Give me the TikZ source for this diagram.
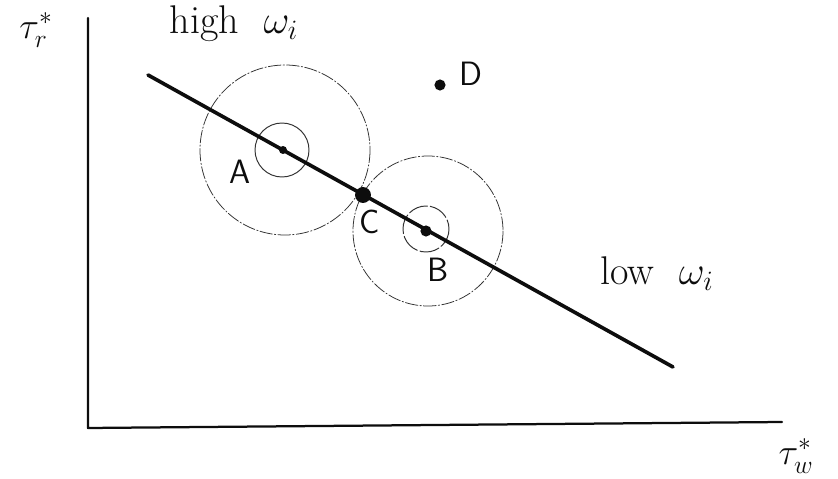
\RequirePackage{fix-cm}
\documentclass[tikz,border=0pt]{standalone}
\usepackage{amsmath,amssymb}
\usetikzlibrary{arrows.meta,calc}
\definecolor{PlotInk}{gray}{0.05}
\definecolor{PlotContour}{gray}{0.2}
\tikzset{
    plot/diagram/.style={
        font=\fontsize{28.5}{34}\selectfont,
        draw=PlotInk,
        text=PlotInk,
        line width=0.65pt,
        line cap=round,
        line join=round,
        every node/.style={inner sep=2pt, outer sep=1pt}
    },
    plot/axis/.style={draw=PlotInk, line width=1.6pt},
    plot/curve/.style={draw=PlotInk, line width=2.6pt},
    plot/outer/.style={
        draw=PlotContour, line width=0.55pt,
        dash pattern=on 9pt off 1.5pt on 1pt off 1.5pt
    },
    plot/inner/.style={draw=PlotContour, line width=0.7pt},
    plot/broken/.style={plot/inner, dash pattern=on 14pt off 2pt},
    plot/point/.style={circle, fill=PlotInk, draw=none, inner sep=2.8pt},
    plot/letter/.style={font=\fontsize{24}{28}\sffamily},
    plot/label/.style={font=\fontsize{26}{30}\selectfont}
}

\begin{document}
\begin{tikzpicture}[plot/diagram, x=0.025cm, y=-0.025cm]
    \useasboundingbox (0,0) rectangle (838,479);
    % axes
    \coordinate (top) at (88,18);
    \coordinate (origin) at (88,428);
    \coordinate (right) at (782,422);
    \draw[plot/axis] (top) -- (origin) -- (right);
    \node[plot/label] (tr) at (36,30) {$\tau^*_r$};
    \node[plot/label] (tw) at (796,456) {$\tau^*_w$};
    \node (high) at (234,24) {high\ \ $\omega_i$};
    \node (low) at (657,274) {low\ \ $\omega_i$};

    % contours round A and B
    \draw[plot/outer] (285,150) circle[radius=85];
    \draw[plot/inner] (282,150) circle[radius=27];
    \draw[plot/outer] (428,231) circle[radius=75];
    \draw[plot/broken] (426,229) circle[radius=23];

    % the line
    \coordinate (start) at (148,75);
    \coordinate (end) at (673,367);
    \draw[plot/curve] (start) -- (end);

    \node[plot/point, inner sep=2pt] (a) at (283,150) {};
    \node[plot/point, inner sep=4pt] (c) at (363,195) {};
    \node[plot/point] (b) at (426,231) {};
    \node[plot/point] (d) at (440,85) {};
    \node[plot/letter] (la) at (240,172) {A};
    \node[plot/letter] (lc) at (370,222) {C};
    \node[plot/letter] (lb) at (438,270) {B};
    \node[plot/letter] (ld) at (471,74) {D};
\end{tikzpicture}
\end{document}
